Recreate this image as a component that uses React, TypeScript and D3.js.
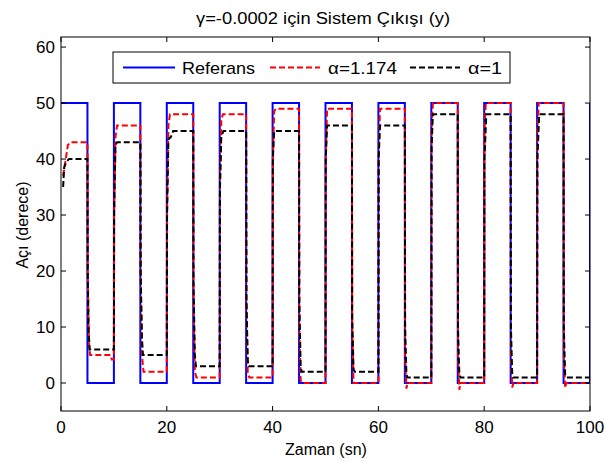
import React from "react";
import * as d3 from "d3";

// Reference square wave: switching times and levels
const refTimes = [0, 5, 10, 15, 20, 25, 30, 35, 40, 45, 50, 55, 60, 65, 70, 75, 80, 85, 90, 95, 100];
const refValues = [50, 0, 50, 0, 50, 0, 50, 0, 50, 0, 50, 0, 50, 0, 50, 0, 50, 0, 50, 0, 50];

// alpha = 1.174 (red dashed)
const redSeries: [number, number][] = [
  [0.4, 37], [0.9, 40], [1.3, 42.5], [1.8, 43], [5, 43],
  [5.05, 20], [5.3, 7], [5.5, 5], [9.4, 5], [9.6, 4.2], [10, 4.2],
  [10.05, 30], [10.3, 44], [10.6, 46], [15, 46],
  [15.05, 20], [15.3, 5], [15.6, 2], [20, 2],
  [20.05, 30], [20.3, 46], [20.6, 48], [25, 48],
  [25.05, 15], [25.3, 2], [25.6, 1], [30, 1],
  [30.05, 35], [30.3, 47], [30.6, 48], [35, 48],
  [35.05, 15], [35.3, 2], [35.6, 1], [40, 1],
  [40.05, 40], [40.3, 48.5], [40.6, 49], [45, 49],
  [45.05, 10], [45.3, 0.5], [45.6, 0], [50, 0],
  [50.05, 40], [50.3, 49], [55, 49],
  [55.05, 10], [55.3, 0], [60, 0],
  [60.05, 40], [60.3, 49], [65, 49],
  [65.05, 5], [65.3, -1], [65.5, 0], [70, 0],
  [70.05, 45], [70.3, 50], [75, 50],
  [75.05, 5], [75.3, -1.2], [75.5, 0], [80, 0],
  [80.05, 45], [80.3, 50], [85, 50],
  [85.05, 5], [85.3, -0.8], [85.5, 0], [90, 0],
  [90.05, 45], [90.3, 50], [95, 50],
  [95.05, 5], [95.3, -0.9], [95.5, 0], [100, 0],
];

// alpha = 1 (black dashed)
const blackSeries: [number, number][] = [
  [0.4, 35], [0.6, 38.5], [1.0, 39.5], [1.5, 40], [5, 40],
  [5.05, 20], [5.2, 10], [5.4, 6], [10, 6],
  [10.05, 30], [10.3, 42.5], [10.6, 43], [15, 43],
  [15.05, 20], [15.3, 8], [15.5, 5], [20, 5],
  [20.05, 30], [20.3, 43.5], [20.8, 44], [21.2, 45], [25, 45],
  [25.05, 18], [25.3, 5], [25.5, 3], [30, 3],
  [30.05, 35], [30.3, 44], [30.7, 45], [35, 45],
  [35.05, 15], [35.3, 4], [35.5, 3], [40, 3],
  [40.05, 40], [40.3, 45], [45, 45],
  [45.05, 15], [45.3, 3], [45.5, 2], [50, 2],
  [50.05, 40], [50.3, 46], [55, 46],
  [55.05, 12], [55.3, 2.5], [55.5, 2], [60, 2],
  [60.05, 40], [60.3, 46], [65, 46],
  [65.05, 10], [65.3, 1.5], [65.5, 1], [70, 1],
  [70.05, 42], [70.3, 48], [75, 48],
  [75.05, 10], [75.3, 1.5], [75.5, 1], [80, 1],
  [80.05, 40], [80.4, 48], [85, 48],
  [85.05, 10], [85.3, 1.5], [85.5, 1], [90, 1],
  [90.05, 40], [90.4, 48], [95, 48],
  [95.05, 10], [95.3, 1.5], [95.5, 1], [100, 1],
];

const xTicks = [0, 20, 40, 60, 80, 100];
const yTicks = [0, 10, 20, 30, 40, 50, 60];
const legendLabels = ["Referans", "\u03b1=1.174", "\u03b1=1"];
const titleText = "\u03b3=-0.0002 i\u00e7in Sistem \u00c7\u0131k\u0131\u015f\u0131 (y)";
const xLabel = "Zaman (sn)";
const yLabel = "A\u00e7\u0131 (derece)";

const W = 606, H = 461;
const L = 61, R = 590, T = 37, B = 411;
const FONT = "'Liberation Sans', Arial, sans-serif";

export default function App() {
  const x = d3.scaleLinear().domain([0, 100]).range([L, R]);
  const y = d3.scaleLinear().domain([-5, 61.8]).range([B, T]);
  const line = d3.line<[number, number]>().x(d => x(d[0])).y(d => y(d[1]));
  const refLine = d3.line<number>()
    .x((_, i) => x(refTimes[i]))
    .y(d => y(d))
    .curve(d3.curveStepAfter);
  const refPath = refLine(refValues) + `L${x(100)},${y(refValues[refValues.length - 1])}`;
  const tl = 5;
  return (
    <svg width={W} height={H} style={{ position: "absolute", left: 0, top: 0, background: "#fff" }} fontFamily={FONT}>
      <rect x={0} y={0} width={W} height={H} fill="#fff" />
      <defs>
        <clipPath id="plotclip"><rect x={L} y={T} width={R - L} height={B - T} /></clipPath>
      </defs>
      <g clipPath="url(#plotclip)">
        <path d={refPath} fill="none" stroke="#0000ff" strokeWidth={2} />
        <path d={line(redSeries) || ""} fill="none" stroke="#ff0000" strokeWidth={2} strokeDasharray="6,3" />
        <path d={line(blackSeries) || ""} fill="none" stroke="#000" strokeWidth={2} strokeDasharray="6,3" />
      </g>
      <rect x={L} y={T} width={R - L} height={B - T} fill="none" stroke="#000" strokeWidth={1} />
      {xTicks.map(t => (
        <g key={"x" + t}>
          <line x1={x(t)} x2={x(t)} y1={B} y2={B - tl} stroke="#000" />
          <line x1={x(t)} x2={x(t)} y1={T} y2={T + tl} stroke="#000" />
          <text x={x(t)} y={433} textAnchor="middle" fontSize={17}>{t}</text>
        </g>
      ))}
      {yTicks.map(t => (
        <g key={"y" + t}>
          <line x1={L} x2={L + tl} y1={y(t)} y2={y(t)} stroke="#000" />
          <line x1={R} x2={R - tl} y1={y(t)} y2={y(t)} stroke="#000" />
          <text x={55} y={y(t) + 6} textAnchor="end" fontSize={17}>{t}</text>
        </g>
      ))}
      <text x={323} y={24} textAnchor="middle" fontSize={16} textLength={254} lengthAdjust="spacingAndGlyphs">{titleText}</text>
      <text x={326} y={455} textAnchor="middle" fontSize={16}>{xLabel}</text>
      <text transform={`translate(28,225) rotate(-90)`} textAnchor="middle" fontSize={16}>{yLabel}</text>
      <g>
        <rect x={113} y={52} width={397} height={31} fill="#fff" stroke="#000" strokeWidth={1} />
        <line x1={123} x2={175} y1={67.5} y2={67.5} stroke="#0000ff" strokeWidth={2} />
        <text x={182} y={73.5} fontSize={17} textLength={73} lengthAdjust="spacingAndGlyphs">{legendLabels[0]}</text>
        <line x1={270} x2={320} y1={67.5} y2={67.5} stroke="#ff0000" strokeWidth={2} strokeDasharray="6,3" />
        <text x={328} y={73.5} fontSize={17} textLength={69} lengthAdjust="spacingAndGlyphs">{legendLabels[1]}</text>
        <line x1={410} x2={460} y1={67.5} y2={67.5} stroke="#000" strokeWidth={2} strokeDasharray="6,3" />
        <text x={468} y={73.5} fontSize={17} textLength={34} lengthAdjust="spacingAndGlyphs">{legendLabels[2]}</text>
      </g>
    </svg>
  );
}
